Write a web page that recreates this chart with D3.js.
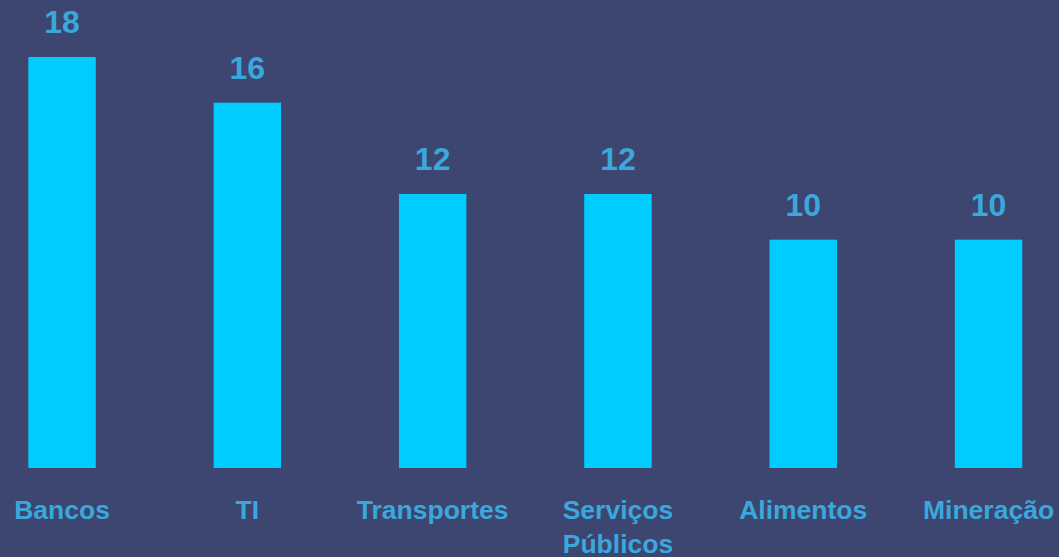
<!DOCTYPE html>
<html>
<meta charset="utf-8">
<script src="https://d3js.org/d3.v7.min.js"></script>
<style>
  body { margin: 0; background: #3c4670; }
</style>
<body>
<div id="my_dataviz"></div>
<script>

// data
var categories = ["Bancos", "TI", "Transportes", "Serviços Públicos", "Alimentos", "Mineração"];
var values = [18, 16, 12, 12, 10, 10];
var labelLines = [["Bancos"], ["TI"], ["Transportes"], ["Serviços", "Públicos"], ["Alimentos"], ["Mineração"]];

var width = 1059,
    height = 557,
    baseline = 468;

var svg = d3.select("#my_dataviz")
  .append("svg")
    .attr("width", width)
    .attr("height", height)
    .style("display", "block");

svg.append("rect")
    .attr("width", width)
    .attr("height", height)
    .attr("fill", "#3c4670");

// bands: step ~185px, first centre at x=62
var x = d3.scaleBand()
    .domain(categories)
    .range([-30.6, 1081.2])
    .paddingInner(0.636)
    .paddingOuter(0.318);

var y = d3.scaleLinear()
    .domain([0, 18])
    .range([baseline, 57]);

// bars
svg.append("g")
  .selectAll("rect")
  .data(categories)
  .enter()
  .append("rect")
    .attr("x", function(d) { return x(d); })
    .attr("y", function(d, i) { return y(values[i]); })
    .attr("width", x.bandwidth())
    .attr("height", function(d, i) { return baseline - y(values[i]); })
    .attr("fill", "#00ccff");

// value labels
svg.append("g")
  .selectAll("text")
  .data(categories)
  .enter()
  .append("text")
    .attr("x", function(d) { return x(d) + x.bandwidth() / 2; })
    .attr("y", function(d, i) { return y(values[i]) - 24; })
    .attr("text-anchor", "middle")
    .style("font-family", "Liberation Sans, Arial, sans-serif")
    .style("font-weight", "bold")
    .style("font-size", "32px")
    .attr("fill", "#3aa8dc")
    .text(function(d, i) { return values[i]; });

// category labels
var cat = svg.append("g")
  .selectAll("text")
  .data(categories)
  .enter()
  .append("text")
    .attr("x", function(d) { return x(d) + x.bandwidth() / 2; })
    .attr("y", 519)
    .attr("text-anchor", "middle")
    .style("font-family", "Liberation Sans, Arial, sans-serif")
    .style("font-weight", "bold")
    .style("font-size", "26.5px")
    .attr("fill", "#3aa8dc");

cat.selectAll("tspan")
  .data(function(d, i) { return labelLines[i]; })
  .enter()
  .append("tspan")
    .attr("x", function() { var p = d3.select(this.parentNode).datum(); return x(p) + x.bandwidth() / 2; })
    .attr("dy", function(d, i) { return i === 0 ? 0 : 34; })
    .text(function(d) { return d; });

</script>
</body>
</html>
